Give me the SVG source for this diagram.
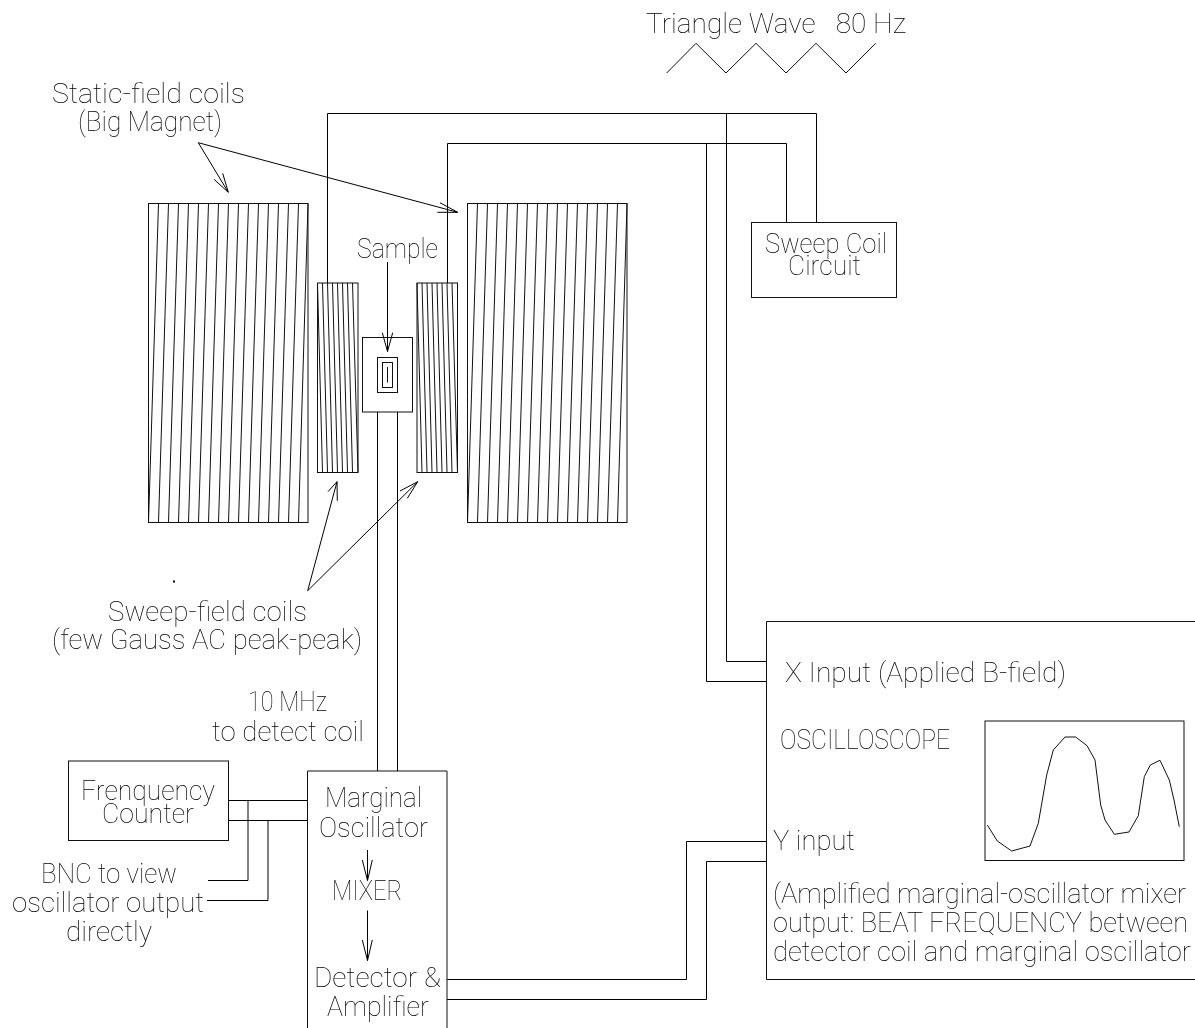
<svg xmlns="http://www.w3.org/2000/svg" width="1195" height="1028" viewBox="0 0 1195 1028">
<defs><filter id="g" x="-10%" y="-30%" width="120%" height="160%" color-interpolation-filters="sRGB"><feOffset dx="0" dy="0"/></filter></defs>
<style>
.l{fill:none;stroke:#000;stroke-width:1}
.h{fill:none;stroke:#111;stroke-width:1}
text{font-family:"Roboto","Liberation Sans",sans-serif;font-weight:100;font-size:27px;fill:#000;stroke:none;filter:url(#g);white-space:pre}
</style>
<rect width="1195" height="1028" fill="#fff"/>
<g id="connectors" class="l">
<path d="M327.500 283V113.500H816.500V222M726.500 113.500V661.500H766"/>
<path d="M447.500 283V143.500H786.500V222M706.500 143.500V681.500H766"/>
<path d="M377.500 412V771M397.500 412V771"/>
<path d="M228 800.500H307.500M228 820.500H307.500M248 800.500V880.500H208M268 820.500V900.500H207"/>
<path d="M447 979.500H686.500V841.500H766M447 999.500H706.500V861.500H766"/>
<path d="M198.300 142.700L228.300 192.300M214 179.300L228.300 192.300M222.700 173.300L228.300 192.300"/>
<path d="M198.300 142.700L457.700 212.300M440 202.700L457.700 212.300M437.300 212.300L457.700 212.300"/>
<path d="M307.700 590.700L337 481.700M328 491.700L337 481.700M337.300 500.700L337 481.700"/>
<path d="M307.700 590.700L417.700 481.700M400 491L417.700 481.700M407.300 498.300L417.700 481.700"/>
<path d="M387.500 262V351.500M382.300 332.700L387.500 351.500L392.700 332.700"/>
<path d="M367.500 850V880.500M362.300 860L367.500 880.500L372.300 860"/>
<path d="M367.500 910.500V960.500M362.300 940L367.500 960.500L372.300 940"/>
</g>
<g id="triangle-wave">
<text x="646" y="33" textLength="260" lengthAdjust="spacingAndGlyphs">Triangle Wave   80 Hz</text>
<path class="h" d="M666.700 73L696 43.300L726 73L756 43.300L786 73L816 43.300L846 73L875.700 43.300"/>
</g>
<g id="static-label">
<text x="52" y="103" textLength="193" lengthAdjust="spacingAndGlyphs">Static-field coils</text>
<text x="78" y="131" textLength="144" lengthAdjust="spacingAndGlyphs">(Big Magnet)</text>
</g>
<g id="left-magnet" class="h">
<rect x="148.500" y="203.500" width="159.500" height="319"/>
<path d="M158.500 203.500L148.500 522.500M168.500 203.500L158.500 522.500M178.500 203.500L168.500 522.500M188.500 203.500L178.500 522.500M198.500 203.500L188.500 522.500M208.500 203.500L198.500 522.500M218.500 203.500L208.500 522.500M228.500 203.500L218.500 522.500M238.500 203.500L228.500 522.500M248.500 203.500L238.500 522.500M258.500 203.500L248.500 522.500M268.500 203.500L258.500 522.500M278.500 203.500L268.500 522.500M288.500 203.500L278.500 522.500M298.500 203.500L288.500 522.500M308 203.500L298.500 522.500"/>
</g>
<g id="right-magnet" class="h">
<rect x="467.500" y="203.500" width="159.500" height="319"/>
<path d="M477.500 203.500L467.500 522.500M487.500 203.500L477.500 522.500M497.500 203.500L487.500 522.500M507.500 203.500L497.500 522.500M517.500 203.500L507.500 522.500M527.500 203.500L517.500 522.500M537.500 203.500L527.500 522.500M547.500 203.500L537.500 522.500M557.500 203.500L547.500 522.500M567.500 203.500L557.500 522.500M577.500 203.500L567.500 522.500M587.500 203.500L577.500 522.500M597.500 203.500L587.500 522.500M607.500 203.500L597.500 522.500M617.500 203.500L607.500 522.500M627 203.500L617.500 522.500"/>
</g>
<g id="left-sweep-coil" class="h">
<rect x="317.500" y="283" width="40.500" height="189.500"/>
<path d="M317.500 283L322.500 472.500M322.500 283L327.500 472.500M327.500 283L332.500 472.500M332.500 283L337.500 472.500M337.500 283L342.500 472.500M342.500 283L347.500 472.500M347.500 283L352.500 472.500M352.500 283L358 472.500"/>
</g>
<g id="right-sweep-coil" class="h">
<rect x="417" y="283" width="40.500" height="189.500"/>
<path d="M417 283L422 472.500M422 283L427 472.500M427 283L432 472.500M432 283L437 472.500M437 283L442 472.500M442 283L447 472.500M447 283L452 472.500M452 283L457.500 472.500"/>
</g>
<g id="sample">
<text x="357" y="258" textLength="81" lengthAdjust="spacingAndGlyphs">Sample</text>
<rect class="h" x="362.500" y="337.500" width="50" height="74.500"/>
<rect class="h" x="377.500" y="357.500" width="20" height="35"/>
<rect class="h" x="382.500" y="362.500" width="10" height="25"/>
<path class="h" d="M387.500 367V382.500"/>
</g>
<g id="sweep-coil-circuit">
<rect class="h" x="751.500" y="222.500" width="145" height="75"/>
<text x="765" y="253" textLength="122" lengthAdjust="spacingAndGlyphs">Sweep Coil</text>
<text x="788" y="275" textLength="73" lengthAdjust="spacingAndGlyphs">Circuit</text>
</g>
<g id="sweep-label">
<rect x="173" y="580.500" width="2" height="2"/>
<text x="108" y="621" textLength="199" lengthAdjust="spacingAndGlyphs">Sweep-field coils</text>
<text x="52" y="649" textLength="310" lengthAdjust="spacingAndGlyphs">(few Gauss AC peak-peak)</text>
<text x="248" y="711" textLength="79" lengthAdjust="spacingAndGlyphs">10 MHz</text>
<text x="212" y="741" textLength="152" lengthAdjust="spacingAndGlyphs">to detect coil</text>
</g>
<g id="frequency-counter">
<rect class="h" x="68.500" y="761" width="160" height="79.500"/>
<text x="81" y="800" textLength="134" lengthAdjust="spacingAndGlyphs">Frenquency</text>
<text x="102" y="823" textLength="92" lengthAdjust="spacingAndGlyphs">Counter</text>
</g>
<g id="bnc-label">
<text x="41" y="883" textLength="136" lengthAdjust="spacingAndGlyphs">BNC to view</text>
<text x="12" y="912" textLength="192" lengthAdjust="spacingAndGlyphs">oscillator output</text>
<text x="66" y="941" textLength="86" lengthAdjust="spacingAndGlyphs">directly</text>
</g>
<g id="marginal-oscillator">
<path class="h" d="M307.500 1028V771H447V1028"/>
<text x="325" y="807" textLength="97" lengthAdjust="spacingAndGlyphs">Marginal</text>
<text x="319" y="837" textLength="109" lengthAdjust="spacingAndGlyphs">Oscillator</text>
<text x="332" y="900" textLength="70" lengthAdjust="spacingAndGlyphs">MIXER</text>
<text x="314" y="987" textLength="127" lengthAdjust="spacingAndGlyphs">Detector &amp;</text>
<text x="327" y="1016" textLength="102" lengthAdjust="spacingAndGlyphs">Amplifier</text>
</g>
<g id="oscilloscope">
<path class="h" d="M1195 621.500H766.500V979.500H1195"/>
<text x="785" y="682" textLength="281" lengthAdjust="spacingAndGlyphs">X Input (Applied B-field)</text>
<text x="780" y="749" textLength="170" lengthAdjust="spacingAndGlyphs">OSCILLOSCOPE</text>
<text x="773" y="850" textLength="82" lengthAdjust="spacingAndGlyphs">Y input</text>
<text x="773" y="903" textLength="413" lengthAdjust="spacingAndGlyphs">(Amplified marginal-oscillator mixer</text>
<text x="773" y="932" textLength="415" lengthAdjust="spacingAndGlyphs">output: BEAT FREQUENCY between</text>
<text x="773" y="961" textLength="418" lengthAdjust="spacingAndGlyphs">detector coil and marginal oscillator</text>
<rect class="h" x="985" y="721" width="199" height="139.500"/>
<path class="h" d="M987.300 825L997.300 841L1011.700 851L1030 846L1038.300 823.300L1046.700 775L1053.300 750L1065 737H1075.700L1087 745.700L1095 760L1100.700 805L1105 820L1114.300 834.300L1129 832L1138.300 815.700L1144.300 776.700L1150.300 765L1160 760.300L1169.300 780L1174 800L1179.300 826.700"/>
</g>
</svg>
